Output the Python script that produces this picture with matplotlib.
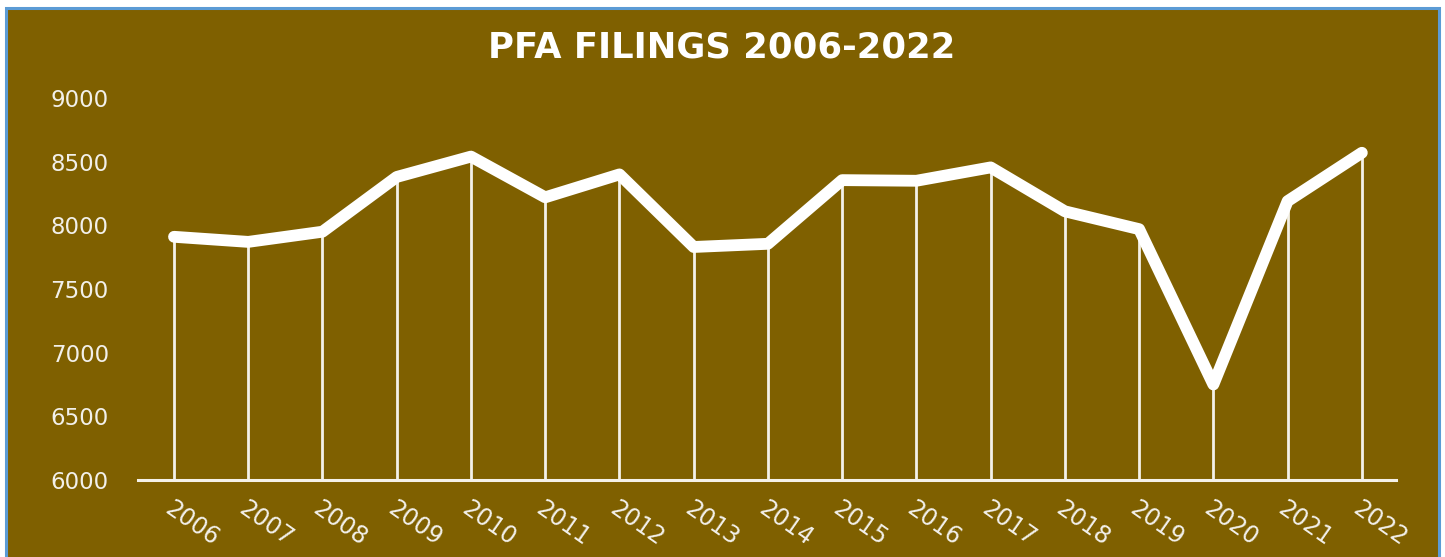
import matplotlib
matplotlib.use("Agg")
import matplotlib.pyplot as plt
from matplotlib.patches import Rectangle

years = ["2006", "2007", "2008", "2009", "2010", "2011", "2012", "2013", "2014",
         "2015", "2016", "2017", "2018", "2019", "2020", "2021", "2022"]
filings = [7910, 7870, 7950, 8380, 8540, 8220, 8400, 7830, 7855,
           8355, 8350, 8455, 8110, 7970, 6750, 8190, 8570]
yticks = [6000, 6500, 7000, 7500, 8000, 8500, 9000]
title = "PFA FILINGS 2006-2022"

BG = "#7F6000"
W, H = 1445, 557
fig = plt.figure(figsize=(W / 100, H / 100), dpi=100, facecolor="white")

# brown panel with blue border (bottom edge runs off the image)
panel = Rectangle((6 / W, -0.05), (1439 - 6) / W, (H - 8) / H + 0.05,
                  transform=fig.transFigure, facecolor=BG,
                  edgecolor="#5B9BD5", linewidth=2.2, zorder=-10)
fig.add_artist(panel)

ax = fig.add_axes([138 / W, 1 - 480 / H, (1396 - 138) / W, (480 - 98) / H])
ax.set_zorder(5)
ax.set_facecolor("none")

x = list(range(len(years)))
ax.vlines(x, 6000, filings, colors="#F4F1E8", linewidth=2.0, zorder=2)
ax.plot(x, filings, color="white", linewidth=8.5, solid_joinstyle="round",
        solid_capstyle="round", zorder=3)

ax.set_xlim(-0.485, 16.46)
ax.set_ylim(6000, 9000)
ax.set_yticks(yticks)
ax.set_yticklabels([str(v) for v in yticks])
ax.set_xticks(x)
ax.set_xticklabels(years)

for s in ["top", "right", "left"]:
    ax.spines[s].set_visible(False)
ax.spines["bottom"].set_color("#F4F1E8")
ax.spines["bottom"].set_linewidth(2.2)
ax.tick_params(axis="both", length=0)
ax.tick_params(axis="y", labelsize=16.5, labelcolor="#F2F0EA", pad=21)
ax.tick_params(axis="x", labelsize=17, labelcolor="#F2F0EA", pad=12)
for lbl in ax.get_xticklabels():
    lbl.set_rotation(-35)
    lbl.set_ha("left")
    lbl.set_va("top")
    lbl.set_rotation_mode("anchor")

fig.text(722 / W, 1 - 47 / H, title, color="white", fontsize=25.5,
         fontweight="bold", ha="center", va="center", zorder=6)

fig.savefig("out.png", dpi=100, facecolor="white")
